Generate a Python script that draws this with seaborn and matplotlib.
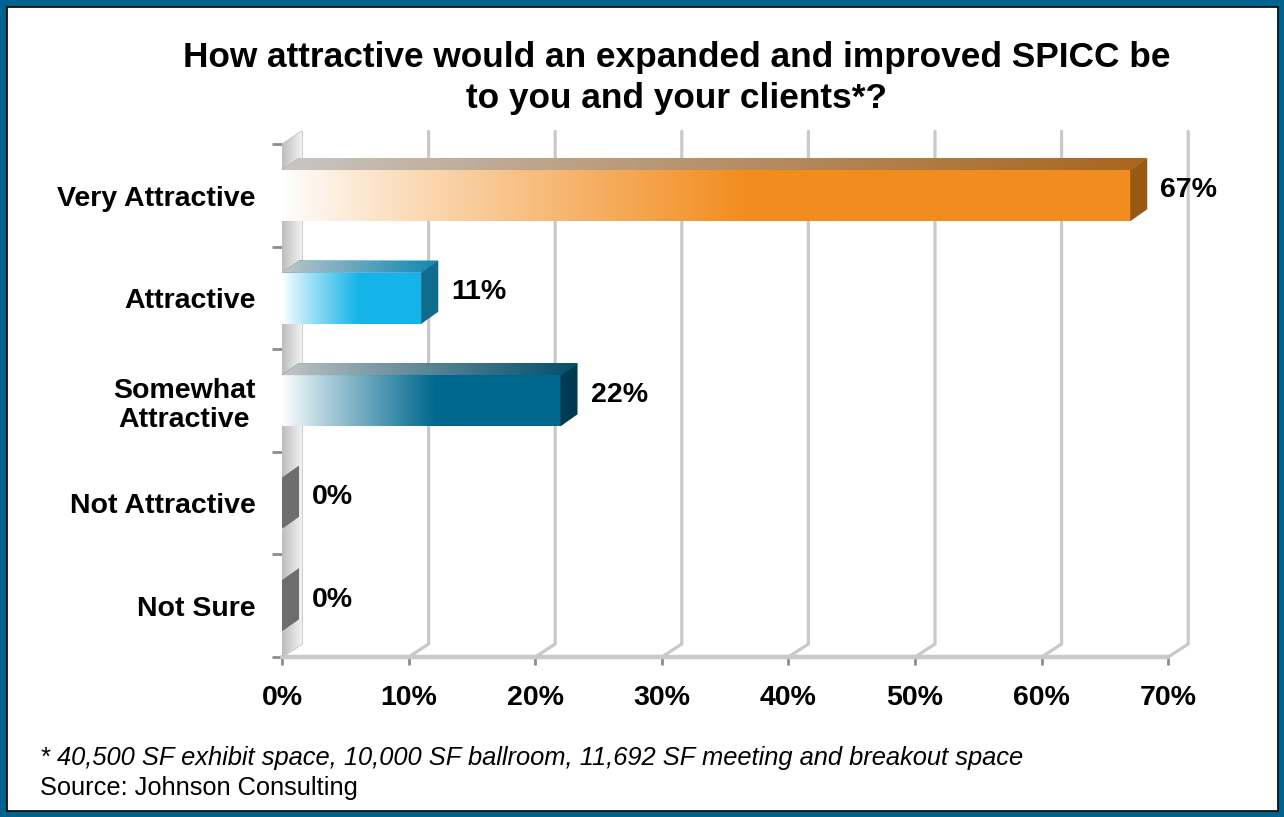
import numpy as np
import pandas as pd
import matplotlib
matplotlib.use("Agg")
import matplotlib.pyplot as plt
import seaborn as sns
from matplotlib.patches import Polygon, Rectangle
from matplotlib.colors import to_rgb

# ---------------- data ----------------
categories = ["Very Attractive", "Attractive", "Somewhat\nAttractive", "Not Attractive", "Not Sure"]
values = [67, 11, 22, 0, 0]
value_labels = ["67%", "11%", "22%", "0%", "0%"]
x_ticks = [0, 10, 20, 30, 40, 50, 60, 70]
x_tick_labels = ["0%", "10%", "20%", "30%", "40%", "50%", "60%", "70%"]
title = "How attractive would an expanded and improved SPICC be\nto you and your clients*?"
footnote = "* 40,500 SF exhibit space, 10,000 SF ballroom, 11,692 SF meeting and breakout space"
source = "Source: Johnson Consulting"

# ---------------- style ----------------
front_colors = ["#F28C1E", "#14B4E8", "#00688F", "#6E6E6E", "#6E6E6E"]
top_colors = ["#A8651E", "#1088B4", "#004E6B", "#5A5A5A", "#5A5A5A"]
side_colors = ["#9A5812", "#0E6C8C", "#003A52", "#5A5A5A", "#5A5A5A"]
grid_color = "#C9C9C9"
tick_color = "#8C8C8C"
frame_blue = "#00628E"

sns.set_theme(style="white")
plt.rcParams['font.family'] = ['Liberation Sans', 'DejaVu Sans']
plt.rcParams['text.color'] = 'black'
plt.rcParams['xtick.labelcolor'] = 'black'
plt.rcParams['ytick.labelcolor'] = 'black'

W, H = 1284, 817
fig = plt.figure(figsize=(W / 100, H / 100), dpi=100)
fig.patch.set_facecolor("white")

ax_left_px, ax_floor_px, ax_top_px = 282, 657, 130
px_per_unit_x = 126.6 / 10
xmax = 72
ymin_top = -0.64
ymax_floor = 4.5
ax = fig.add_axes([ax_left_px / W, (H - ax_floor_px) / H,
                   xmax * px_per_unit_x / W, (ax_floor_px - ax_top_px) / H])

df = pd.DataFrame({"category": categories, "value": values})
sns.barplot(data=df, x="value", y="category", hue="category", palette=front_colors,
            orient="h", width=0.5, legend=False, ax=ax, saturation=1, zorder=3)

ax.set_xlim(0, xmax)
ax.set_ylim(ymax_floor, ymin_top)
ax.set_facecolor("none")
for s in ax.spines.values():
    s.set_visible(False)

# pixel -> data conversions for the 3D depth
px_per_unit_y = (ax_floor_px - ax_top_px) / (ymax_floor - ymin_top)
gdx, gdy = 20 / px_per_unit_x, 13 / px_per_unit_y   # grid / wall depth
bdx, bdy = 17 / px_per_unit_x, 12 / px_per_unit_y   # bar depth

y_lo, y_hi = -0.5, 4.5

# back wall (left)
wall = Polygon([(0, y_lo), (gdx, y_lo - gdy), (gdx, y_hi - gdy), (0, y_hi)],
               closed=True, facecolor="#D6D6D6", edgecolor="#C4C4C4", lw=1.2, zorder=1)
ax.add_patch(wall)
wimg = np.zeros((1, 64, 3))
for i, t in enumerate(np.linspace(0, 1, 64)):
    wimg[0, i] = (1 - t) * np.array(to_rgb("#BDBDBD")) + t * np.array(to_rgb("#F2F2F2"))
wi = ax.imshow(wimg, extent=[0, gdx, y_hi, y_lo - gdy], aspect="auto", zorder=1.1,
               interpolation="bilinear")
wi.set_clip_path(wall)

# gridlines on back plane + slanted floor connectors
for v in x_ticks[1:]:
    ax.plot([v + gdx, v + gdx, v], [y_lo - gdy, y_hi - gdy, y_hi], color=grid_color,
            lw=2.3, zorder=0.8, solid_joinstyle="miter", clip_on=False)
# floor front edge
ax.plot([0, x_ticks[-1]], [y_hi, y_hi], color=grid_color, lw=3.2, zorder=0.9, clip_on=False)


def hgrad(c0, c1, n=256, reach=1.0, gamma=1.0):
    c0, c1 = np.array(to_rgb(c0)), np.array(to_rgb(c1))
    t = np.clip(np.linspace(0, 1, n) / reach, 0, 1) ** gamma
    return (c0[None, :] * (1 - t[:, None]) + c1[None, :] * t[:, None])[None, :, :]


# bars with 3D faces
for p in list(ax.patches):
    if p in (wall,):
        continue
    w = p.get_width()
    h = p.get_height()
    yc = p.get_y() + h / 2
    idx = int(round(yc))
    if idx < 0 or idx >= len(values):
        continue
    yt, yb = yc - h / 2, yc + h / 2
    x0 = p.get_x()
    if values[idx] > 0:
        p.set_edgecolor("none")
        # front face gradient
        img = hgrad("#FFFFFF", front_colors[idx], reach=0.55, gamma=0.9)
        im = ax.imshow(img, extent=[x0, x0 + w, yb, yt], aspect="auto", zorder=3.1,
                       interpolation="bilinear")
        im.set_clip_path(p)
        # top face
        top = Polygon([(x0, yt), (x0 + w, yt), (x0 + w + bdx, yt - bdy), (x0 + bdx, yt - bdy)],
                      closed=True, facecolor=top_colors[idx], edgecolor="none", zorder=3.2)
        ax.add_patch(top)
        timg = hgrad("#C8C8C8", top_colors[idx], reach=1.0, gamma=0.85)
        ti = ax.imshow(timg, extent=[x0, x0 + w + bdx, yt, yt - bdy], aspect="auto",
                       zorder=3.3, interpolation="bilinear")
        ti.set_clip_path(top)
        # side face
        side = Polygon([(x0 + w, yt), (x0 + w + bdx, yt - bdy), (x0 + w + bdx, yb - bdy), (x0 + w, yb)],
                       closed=True, facecolor=side_colors[idx], edgecolor="none", zorder=3.4)
        ax.add_patch(side)
    else:
        # zero-length bar: only its end face shows on the wall
        zp = Polygon([(0, yb), (0, yt), (bdx, yt - bdy), (bdx, yb - bdy)], closed=True,
                     facecolor=front_colors[idx], edgecolor="none", zorder=3.2)
        ax.add_patch(zp)

    ax.text(values[idx] + 30 / px_per_unit_x, yc - bdy / 2, value_labels[idx],
            ha="left", va="center", fontsize=20.5, fontweight="bold", color="black", zorder=5)

ax.set_xlim(0, xmax)
ax.set_ylim(ymax_floor, ymin_top)

# ticks
ax.set_xticks(x_ticks)
ax.set_xticklabels(x_tick_labels, fontsize=20.5, fontweight="bold")
ax.tick_params(axis="x", which="major", bottom=True, length=6, width=2, color=tick_color,
               direction="out", pad=14)
ax.set_yticks(range(len(categories)))
ax.set_yticklabels(categories, fontsize=20.5, fontweight="bold")
for t in ax.get_yticklabels():
    t.set_multialignment("center")
    t.set_linespacing(1.15)
ax.tick_params(axis="y", which="major", left=False, length=0, pad=19)
ax.set_yticks(np.arange(y_lo, y_hi + 0.01, 1), minor=True)
ax.tick_params(axis="y", which="minor", left=True, length=7, width=2, color=tick_color,
               direction="out")
ax.set_xlabel("")
ax.set_ylabel("")
ax.grid(False)

# title and notes
fig.text(677 / W, 1 - 78 / H, title, ha="center", va="center", fontsize=25.4,
         fontweight="bold", linespacing=1.32)
fig.text(40 / W, 1 - 758 / H, footnote, ha="left", va="center", fontsize=18.4, style="italic")
fig.text(40 / W, 1 - 788 / H, source, ha="left", va="center", fontsize=18.3)

# frame
fig.add_artist(Rectangle((0, 0), 1, 1, transform=fig.transFigure, fill=False,
                         edgecolor=frame_blue, lw=9, zorder=10))
fig.add_artist(Rectangle((6.5 / W, 6.5 / H), 1 - 13 / W, 1 - 13 / H, transform=fig.transFigure,
                         fill=False, edgecolor="black", lw=1.2, zorder=10))

fig.savefig("out.png", dpi=100)
